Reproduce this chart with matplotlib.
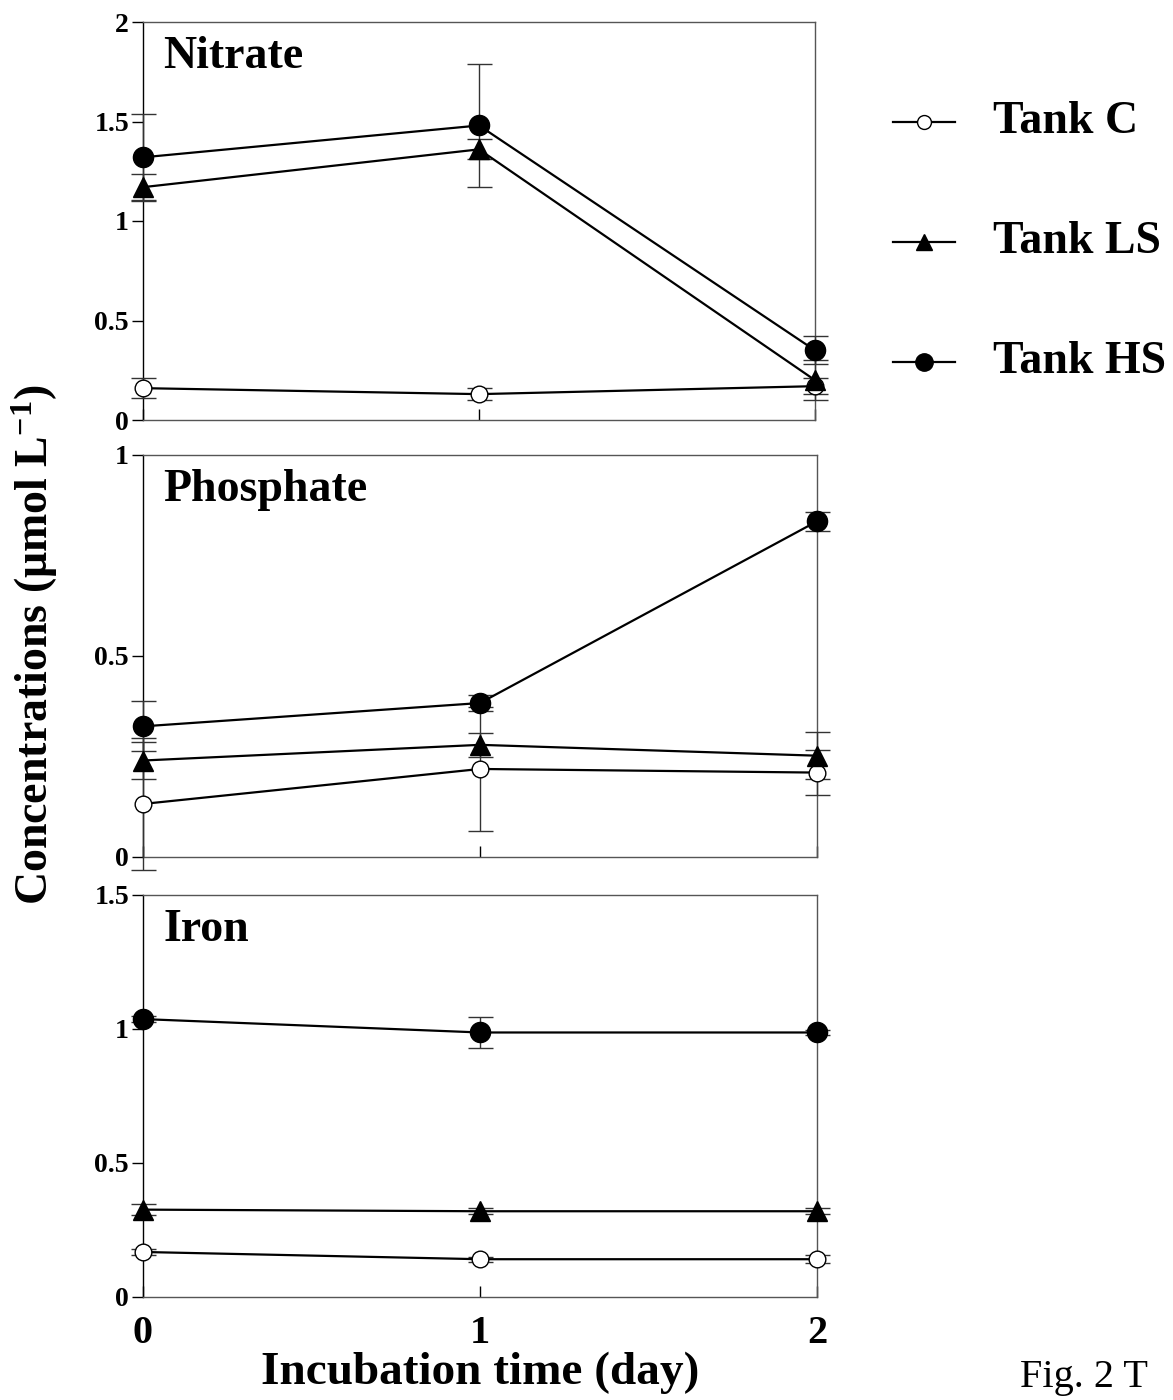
import matplotlib
matplotlib.use("Agg")
import matplotlib.pyplot as plt
from matplotlib.lines import Line2D

plt.rcParams['font.family'] = ['Liberation Serif', 'DejaVu Serif']
plt.rcParams['font.weight'] = 'bold'
plt.rcParams['mathtext.fontset'] = 'custom'
plt.rcParams['mathtext.rm'] = 'Liberation Serif:bold'
plt.rcParams['mathtext.bf'] = 'Liberation Serif:bold'
plt.rcParams['mathtext.default'] = 'bf'

days = [0, 1, 2]
tanks = ["Tank C", "Tank LS", "Tank HS"]

# Nitrate
nitrate_C = [0.16, 0.13, 0.17]
nitrate_C_err = [0.05, 0.03, 0.04]
nitrate_LS = [1.17, 1.36, 0.20]
nitrate_LS_err = [0.065, 0.05, 0.10]
nitrate_HS = [1.32, 1.48, 0.35]
nitrate_HS_err = [0.22, 0.31, 0.07]

# Phosphate
phosphate_C = [0.132, 0.219, 0.21]
phosphate_C_err = [0.164, 0.155, 0.055]
phosphate_LS = [0.24, 0.279, 0.252]
phosphate_LS_err = [0.045, 0.03, 0.058]
phosphate_HS = [0.325, 0.383, 0.835]
phosphate_HS_err = [0.062, 0.02, 0.023]

# Iron
iron_C = [0.168, 0.141, 0.141]
iron_C_err = [0.012, 0.01, 0.015]
iron_LS = [0.326, 0.32, 0.32]
iron_LS_err = [0.02, 0.012, 0.012]
iron_HS = [1.037, 0.987, 0.987]
iron_HS_err = [0.012, 0.059, 0.01]

panels = [
    ("Nitrate", [nitrate_C, nitrate_LS, nitrate_HS],
     [nitrate_C_err, nitrate_LS_err, nitrate_HS_err], 2.0, [0, 0.5, 1, 1.5, 2], ["0", "0.5", "1", "1.5", "2"]),
    ("Phosphate", [phosphate_C, phosphate_LS, phosphate_HS],
     [phosphate_C_err, phosphate_LS_err, phosphate_HS_err], 1.0, [0, 0.5, 1], ["0", "0.5", "1"]),
    ("Iron", [iron_C, iron_LS, iron_HS],
     [iron_C_err, iron_LS_err, iron_HS_err], 1.5, [0, 0.5, 1, 1.5], ["0", "0.5", "1", "1.5"]),
]

W, H = 1173, 1400
fig = plt.figure(figsize=(W / 100, H / 100), dpi=100)

boxes = [(143, 22, 815, 420), (143, 455, 817, 857), (143, 895, 817, 1297)]

styles = [
    dict(marker='o', mfc='white', mec='black', ms=12),
    dict(marker='^', mfc='black', mec='black', ms=14),
    dict(marker='o', mfc='black', mec='black', ms=14.5),
]

for i, ((name, series, errs, ymax, yt, ytl), (l, t, r, b)) in enumerate(zip(panels, boxes)):
    ax = fig.add_axes([l / W, 1 - b / H, (r - l) / W, (b - t) / H])
    for vals, ev, st in zip(series, errs, styles):
        eb = ax.errorbar(days, vals, yerr=ev, color='black', lw=1.6,
                         ecolor='#333333', elinewidth=1.0, capsize=9, capthick=1.0,
                         clip_on=False, zorder=3, **st)
        for art in list(eb.lines[1]) + list(eb.lines[2]):
            art.set_clip_on(False)
    ax.set_xlim(0, 2)
    ax.set_ylim(0, ymax)
    ax.set_yticks(yt)
    ax.set_yticklabels(ytl, fontsize=20, fontweight='bold')
    ax.set_xticks(days)
    if i == 2:
        ax.set_xticklabels(["0", "1", "2"], fontsize=29, fontweight='bold')
        ax.set_xlabel("Incubation time (day)", fontsize=34, fontweight='bold', labelpad=0)
    else:
        ax.set_xticklabels([])
    ax.tick_params(axis='y', direction='out', length=8, width=1, pad=2, colors='black')
    ax.tick_params(axis='x', direction='in', length=8, width=1, pad=13)
    for sp in ax.spines.values():
        sp.set_linewidth(1.0)
        sp.set_color('#555555')
    ax.spines['left'].set_color('black')
    ax.text(0.03, 0.885, name, transform=ax.transAxes, fontsize=33,
            fontweight='bold', va='baseline', ha='left')

fig.text(35 / W, 1 - 645 / H, "Concentrations (μmol L$^{-1}$)", rotation=90,
         fontsize=33, fontweight='bold', ha='center', va='center')

# legend
leg_y = [122, 242, 362]
for name, st, y in zip(tanks, styles, leg_y):
    st2 = dict(st)
    st2['ms'] = st['ms'] - 2
    fig.add_artist(Line2D([893 / W, 955 / W], [1 - y / H, 1 - y / H], color='black', lw=1.6,
                          transform=fig.transFigure))
    fig.add_artist(Line2D([924 / W], [1 - y / H], color='black', lw=0,
                          transform=fig.transFigure, **st2))
    fig.text(993 / W, 1 - y / H, name, fontsize=33, fontweight='bold', va='center', ha='left')

fig.text(1020 / W, 1 - 1378 / H, "Fig. 2 T", fontsize=29, fontweight='normal', va='center', ha='left')

fig.savefig("out.png", dpi=100)
